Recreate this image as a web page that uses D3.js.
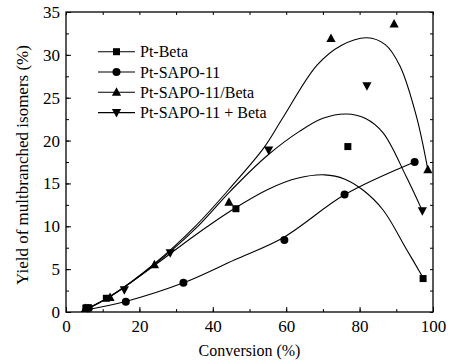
<!DOCTYPE html>
<html>
<head>
<meta charset="utf-8">
<script src="https://cdn.jsdelivr.net/npm/d3@7"></script>
<style>
  body { margin: 0; background: #fff; }
</style>
</head>
<body>
<div id="chart"></div>
<script>
// series names and markers
const seriesNames = ["Pt-Beta", "Pt-SAPO-11", "Pt-SAPO-11/Beta", "Pt-SAPO-11 + Beta"];
const seriesSymbols = ["square", "circle", "up", "down"];

// measured points [conversion, yield]
const ptBeta = [[5.4, 0.45], [11, 1.6], [46.3, 12.05], [76.8, 19.3], [97.3, 3.9]];
const ptSapo = [[6.2, 0.45], [16.3, 1.2], [32, 3.4], [59.5, 8.4], [75.9, 13.7], [95, 17.5]];
const ptSapoBetaLayer = [[5.3, 0.4], [12, 1.7], [24.1, 5.5], [44.4, 12.8], [72.2, 31.9], [89.4, 33.6], [98.6, 16.6]];
const ptSapoBetaMix = [[5.9, 0.5], [15.9, 2.6], [28.4, 6.9], [55.2, 18.9], [82, 26.4], [97.1, 11.8]];

// fitted curves
const fitBeta = [[5, 0.2], [12, 1.8], [24, 5.4], [35, 8.9], [46, 12.1], [55, 14.3], [63, 15.6], [70.5, 16], [76, 15.5], [81, 14.2], [86.4, 11.9], [92.8, 7.3], [97.3, 4]];
const fitSapo = [[5, 0.2], [16.5, 1.25], [32, 3.4], [46, 6.1], [59.3, 8.7], [76, 13.7], [95, 17.5]];
const fitLayer = [[5, 0.2], [12, 1.8], [24, 5.6], [35, 9.9], [45, 14.6], [54, 19.2], [59, 22.6], [68.4, 28.8], [75, 31.1], [82, 32], [87, 31.2], [91, 28.7], [95.5, 22.8], [98.6, 16.6]];
const fitMix = [[5, 0.2], [12, 1.8], [24, 5.5], [35, 9.6], [45, 14.2], [54.7, 18.2], [63.7, 21.1], [70, 22.6], [76.4, 23.1], [81.5, 22.6], [86.4, 20.9], [92.7, 15.8], [97.1, 11.8]];

const pointSets = [ptBeta, ptSapo, ptSapoBetaLayer, ptSapoBetaMix];
const fitSets = [fitBeta, fitSapo, fitLayer, fitMix];

const xTicks = [0, 20, 40, 60, 80, 100];
const yTicks = [0, 5, 10, 15, 20, 25, 30, 35];

const width = 451, height = 364;
const margin = { left: 66, right: 18, top: 12, bottom: 52 };
const serif = "Liberation Serif";

const svg = d3.select("#chart").append("svg")
    .attr("width", width)
    .attr("height", height);

const x = d3.scaleLinear().domain([0, 100]).range([margin.left, width - margin.right]);
const y = d3.scaleLinear().domain([0, 35]).range([height - margin.bottom, margin.top]);

// axes with inward ticks
const xMinor = d3.range(0, 101, 10);
const yMinor = d3.range(0, 35.1, 2.5);

function styleAxis(g) {
    g.attr("font-family", serif).attr("font-size", 17);
    g.selectAll("text").attr("font-family", serif).attr("fill", "#000");
    g.select(".domain").remove();
}

svg.append("g")
    .attr("transform", `translate(0,${y(0)})`)
    .call(d3.axisBottom(x).tickValues(xMinor).tickSize(-3).tickFormat(""))
    .call(styleAxis);
svg.append("g")
    .attr("transform", `translate(0,${y(0)})`)
    .call(d3.axisBottom(x).tickValues(xTicks).tickSize(-5).tickPadding(8).tickFormat(d3.format("d")))
    .call(styleAxis);

svg.append("g")
    .attr("transform", `translate(${x(0)},0)`)
    .call(d3.axisLeft(y).tickValues(yMinor).tickSize(-3).tickFormat(""))
    .call(styleAxis);
svg.append("g")
    .attr("transform", `translate(${x(0)},0)`)
    .call(d3.axisLeft(y).tickValues(yTicks).tickSize(-5).tickPadding(6).tickFormat(d3.format("d")))
    .call(styleAxis);

svg.append("g")
    .attr("transform", `translate(0,${y(35)})`)
    .call(d3.axisTop(x).tickValues(xMinor).tickSize(-3).tickFormat(""))
    .call(styleAxis);
svg.append("g")
    .attr("transform", `translate(${x(100)},0)`)
    .call(d3.axisRight(y).tickValues(yMinor).tickSize(-3).tickFormat(""))
    .call(styleAxis);

svg.selectAll(".tick line").attr("stroke", "#000").attr("stroke-width", 1);

svg.append("rect")
    .attr("x", x(0)).attr("y", y(35))
    .attr("width", x(100) - x(0)).attr("height", y(0) - y(35))
    .attr("fill", "none").attr("stroke", "#000").attr("stroke-width", 1.3);

// fitted curves
const line = d3.line()
    .x(d => x(d[0]))
    .y(d => y(d[1]))
    .curve(d3.curveCatmullRom.alpha(0.5));

svg.selectAll(".fit")
    .data(fitSets)
    .join("path")
    .attr("class", "fit")
    .attr("d", line)
    .attr("fill", "none")
    .attr("stroke", "#000")
    .attr("stroke-width", 1.1);

// markers
function marker(sel, type) {
    if (type === "square") {
        sel.append("rect").attr("x", -3.5).attr("y", -3.5).attr("width", 7).attr("height", 7);
    } else if (type === "circle") {
        sel.append("circle").attr("r", 4);
    } else if (type === "up") {
        sel.append("path").attr("d", "M0,-5L4.6,3.5L-4.6,3.5Z");
    } else {
        sel.append("path").attr("d", "M0,5L4.6,-3.5L-4.6,-3.5Z");
    }
}

pointSets.forEach((pts, i) => {
    svg.append("g").selectAll("g")
        .data(pts)
        .join("g")
        .attr("transform", d => `translate(${x(d[0])},${y(d[1])})`)
        .each(function () { marker(d3.select(this), seriesSymbols[i]); });
});

// legend
const legend = svg.append("g");
seriesNames.forEach((name, i) => {
    const gy = 51.7 + i * 20.3;
    const g = legend.append("g").attr("transform", `translate(0,${gy})`);
    g.append("line").attr("x1", 98).attr("x2", 135).attr("stroke", "#000").attr("stroke-width", 1.1);
    const m = g.append("g").attr("transform", "translate(116.5,0)");
    marker(m, seriesSymbols[i]);
    g.append("text").attr("x", 140).attr("y", 5.5)
        .attr("font-family", serif).attr("font-size", 16).text(name);
});

// axis titles
svg.append("text")
    .attr("x", (x(0) + x(100)) / 2)
    .attr("y", 356)
    .attr("text-anchor", "middle")
    .attr("font-family", serif)
    .attr("font-size", 16)
    .text("Conversion (%)");

svg.append("text")
    .attr("transform", "translate(28,165) rotate(-90)")
    .attr("text-anchor", "middle")
    .attr("font-family", serif)
    .attr("font-size", 17)
    .text("Yield of multbranched isomers (%)");
</script>
</body>
</html>
